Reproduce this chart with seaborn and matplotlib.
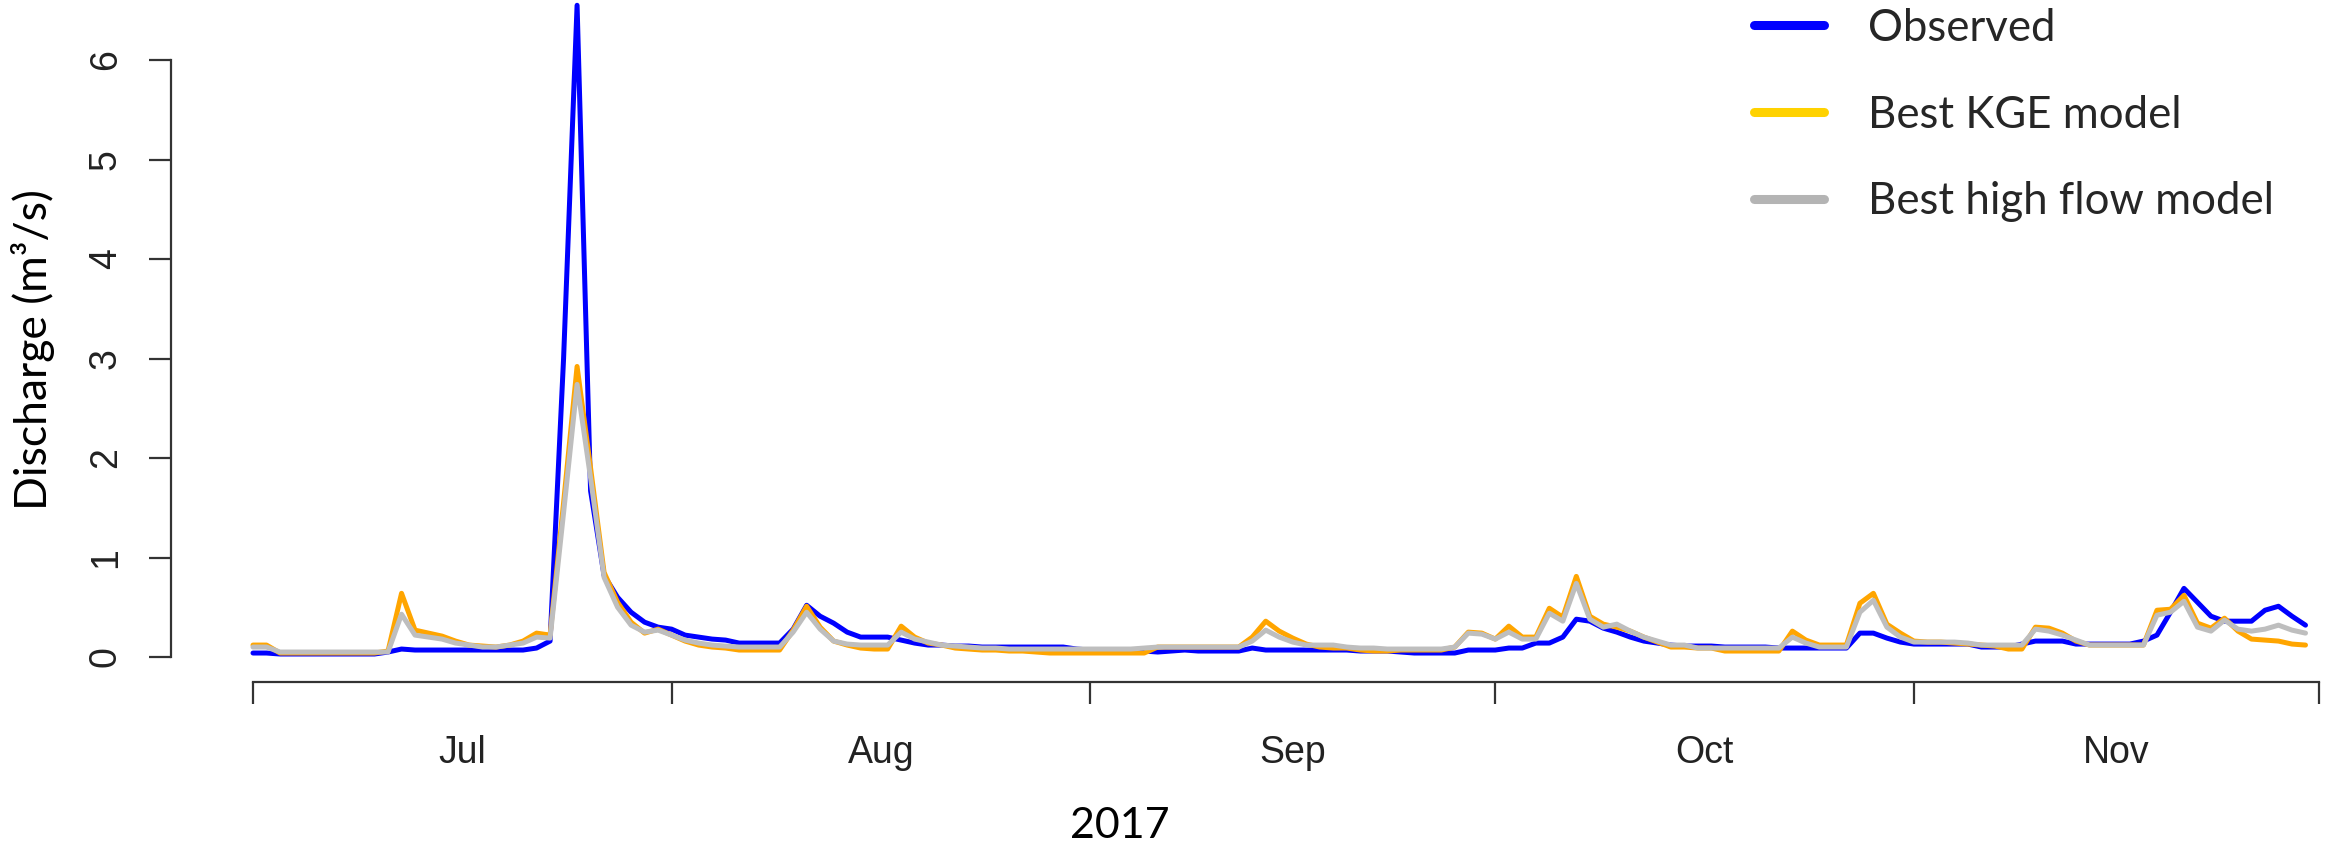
import numpy as np
import pandas as pd
import seaborn as sns
import matplotlib.pyplot as plt
import matplotlib.dates as mdates
from matplotlib.lines import Line2D

# daily discharge (m3/s), 1 Jul - 30 Nov 2017
observed = [
    0.04, 0.04, 0.03, 0.03, 0.03, 0.03, 0.03, 0.03, 0.03, 0.03,
    0.05, 0.08, 0.07, 0.07, 0.07, 0.07, 0.07, 0.07, 0.07, 0.07,
    0.07, 0.09, 0.16, 3.00, 6.55, 1.67, 0.82, 0.60, 0.45, 0.35,
    0.30, 0.28, 0.22, 0.20, 0.18, 0.17, 0.14, 0.14, 0.14, 0.14,
    0.28, 0.52, 0.41, 0.34, 0.25, 0.20, 0.20, 0.20, 0.17, 0.14,
    0.12, 0.12, 0.11, 0.11, 0.10, 0.10, 0.10, 0.10, 0.10, 0.10,
    0.10, 0.08, 0.07, 0.07, 0.06, 0.06, 0.06, 0.05, 0.06, 0.07,
    0.06, 0.06, 0.06, 0.06, 0.09, 0.07, 0.07, 0.07, 0.07, 0.07,
    0.07, 0.07, 0.06, 0.06, 0.06, 0.05, 0.04, 0.04, 0.04, 0.04,
    0.07, 0.07, 0.07, 0.09, 0.09, 0.14, 0.14, 0.20, 0.38, 0.36,
    0.29, 0.25, 0.20, 0.16, 0.14, 0.12, 0.11, 0.11, 0.11, 0.10,
    0.10, 0.10, 0.10, 0.09, 0.09, 0.09, 0.09, 0.09, 0.09, 0.24,
    0.24, 0.19, 0.15, 0.13, 0.13, 0.13, 0.13, 0.13, 0.10, 0.10,
    0.10, 0.13, 0.16, 0.16, 0.16, 0.13, 0.13, 0.13, 0.13, 0.13,
    0.16, 0.22, 0.45, 0.69, 0.55, 0.41, 0.36, 0.36, 0.36, 0.47,
    0.51, 0.41, 0.32,
]
best_kge = [
    0.12, 0.12, 0.04, 0.04, 0.04, 0.04, 0.04, 0.04, 0.04, 0.04,
    0.06, 0.64, 0.27, 0.24, 0.21, 0.16, 0.12, 0.11, 0.10, 0.12,
    0.16, 0.24, 0.22, 1.55, 2.92, 1.90, 0.85, 0.55, 0.35, 0.24,
    0.28, 0.22, 0.16, 0.12, 0.10, 0.09, 0.07, 0.07, 0.07, 0.07,
    0.27, 0.51, 0.30, 0.16, 0.12, 0.09, 0.08, 0.08, 0.31, 0.20,
    0.14, 0.12, 0.09, 0.08, 0.07, 0.07, 0.06, 0.06, 0.05, 0.04,
    0.04, 0.04, 0.04, 0.04, 0.04, 0.04, 0.04, 0.10, 0.10, 0.10,
    0.10, 0.10, 0.10, 0.10, 0.20, 0.36, 0.26, 0.19, 0.13, 0.10,
    0.09, 0.09, 0.07, 0.06, 0.06, 0.07, 0.07, 0.07, 0.07, 0.10,
    0.25, 0.24, 0.18, 0.31, 0.20, 0.20, 0.49, 0.40, 0.81, 0.41,
    0.33, 0.30, 0.26, 0.20, 0.15, 0.10, 0.10, 0.09, 0.09, 0.06,
    0.06, 0.06, 0.06, 0.06, 0.26, 0.17, 0.12, 0.12, 0.12, 0.54,
    0.64, 0.33, 0.24, 0.16, 0.15, 0.15, 0.14, 0.13, 0.12, 0.11,
    0.08, 0.08, 0.30, 0.29, 0.24, 0.16, 0.12, 0.12, 0.12, 0.12,
    0.12, 0.47, 0.48, 0.62, 0.34, 0.29, 0.39, 0.26, 0.18, 0.17,
    0.16, 0.13, 0.12,
]
best_high_flow = [
    0.10, 0.10, 0.05, 0.05, 0.05, 0.05, 0.05, 0.05, 0.05, 0.05,
    0.05, 0.43, 0.22, 0.20, 0.18, 0.14, 0.12, 0.10, 0.10, 0.12,
    0.14, 0.20, 0.19, 1.45, 2.74, 1.80, 0.80, 0.50, 0.32, 0.25,
    0.27, 0.22, 0.17, 0.14, 0.12, 0.11, 0.10, 0.10, 0.10, 0.10,
    0.25, 0.45, 0.28, 0.16, 0.13, 0.12, 0.12, 0.12, 0.25, 0.18,
    0.15, 0.12, 0.11, 0.10, 0.09, 0.09, 0.08, 0.08, 0.08, 0.08,
    0.08, 0.08, 0.08, 0.08, 0.08, 0.08, 0.09, 0.10, 0.10, 0.10,
    0.10, 0.10, 0.10, 0.10, 0.16, 0.27, 0.20, 0.15, 0.12, 0.12,
    0.12, 0.10, 0.09, 0.09, 0.08, 0.08, 0.08, 0.08, 0.08, 0.10,
    0.24, 0.23, 0.18, 0.25, 0.18, 0.18, 0.44, 0.36, 0.74, 0.38,
    0.30, 0.33, 0.26, 0.20, 0.16, 0.12, 0.12, 0.09, 0.09, 0.09,
    0.09, 0.09, 0.09, 0.09, 0.20, 0.14, 0.10, 0.10, 0.10, 0.45,
    0.57, 0.30, 0.20, 0.15, 0.15, 0.15, 0.15, 0.14, 0.12, 0.12,
    0.12, 0.12, 0.28, 0.26, 0.22, 0.17, 0.12, 0.12, 0.12, 0.12,
    0.12, 0.42, 0.45, 0.56, 0.30, 0.26, 0.37, 0.28, 0.26, 0.28,
    0.32, 0.27, 0.24,
]
series_names = ["Observed", "Best KGE model", "Best high flow model"]
line_colors = ["#0000FF", "#FFA500", "#BEBEBE"]
legend_colors = ["#0000FF", "#FFD200", "#B4B4B4"]
month_labels = ["Jul", "Aug", "Sep", "Oct", "Nov"]

dates = pd.date_range("2017-07-01", "2017-11-30", freq="D")
df = pd.DataFrame({"date": dates, "Observed": observed,
                   "Best KGE model": best_kge,
                   "Best high flow model": best_high_flow})
long = df.melt(id_vars="date", var_name="series", value_name="discharge")

sns.set_theme(style="white")
plt.rcParams["font.family"] = ["Liberation Sans", "DejaVu Sans"]

W, H = 2330, 848
fig = plt.figure(figsize=(W / 100, H / 100), dpi=100)
ax = fig.add_axes([171 / W, (H - 682) / H, 1 - 171 / W, 682 / H])

sns.lineplot(data=long, x="date", y="discharge", hue="series",
             hue_order=series_names, palette=line_colors, linewidth=3.6,
             legend=False, ax=ax)

px_day = (2319 - 253) / 153
ax.set_xlim(dates[0] - pd.Timedelta(days=82 / px_day),
            dates[0] + pd.Timedelta(days=(W - 253) / px_day))
ax.set_ylim((657 - 682) / 99.5, 657 / 99.5)

# R-style detached axes
for s in ["top", "right"]:
    ax.spines[s].set_visible(False)
month_starts = pd.date_range("2017-07-01", "2017-12-01", freq="MS")
ax.spines["left"].set_bounds(0, 6)
ax.spines["bottom"].set_bounds(mdates.date2num(month_starts[0]),
                               mdates.date2num(month_starts[-1]))
for s in ["left", "bottom"]:
    ax.spines[s].set_linewidth(1.6)
    ax.spines[s].set_color("#333333")

ax.set_xticks(month_starts)
ax.set_xticklabels([])
mids = month_starts[:-1] + (month_starts[1:] - month_starts[:-1]) / 2
ax.set_xticks(mids, minor=True)
ax.set_xticklabels(month_labels, minor=True)
ax.tick_params(axis="x", which="major", direction="out", length=16,
               width=1.6, color="#333333", bottom=True)
ax.tick_params(axis="x", which="minor", length=0, pad=38, labelsize=27,
               labelcolor="#222222")

ax.set_yticks(range(7))
ax.tick_params(axis="y", direction="out", length=16, width=1.6,
               color="#333333", left=True, pad=18, labelsize=27,
               labelcolor="#222222")
for lab in ax.get_yticklabels():
    lab.set_rotation(90)
    lab.set_va("center")

ax.set_xlabel("")
ax.set_ylabel("")
title_font = ["Lato", "DejaVu Sans"]
fig.text(33 / W, 1 - 350 / H, "Discharge (m³/s)", rotation=90, ha="center",
         va="center", fontsize=32, family=title_font, color="black")
fig.text(1120 / W, 1 - 826 / H, "2017", ha="center", va="center",
         fontsize=31, family=title_font, color="black")

handles = [Line2D([], [], color=c, lw=6.5) for c in legend_colors]
ax.legend(handles, series_names, loc="center left",
          bbox_to_anchor=(1754 / W, 1 - 115 / H), bbox_transform=fig.transFigure,
          frameon=False, prop={"family": title_font, "size": 31.5},
          handlelength=70 / 43.75, handletextpad=44 / 43.75, labelspacing=1.05,
          borderpad=0, borderaxespad=0)

fig.savefig("out.png", dpi=100)
